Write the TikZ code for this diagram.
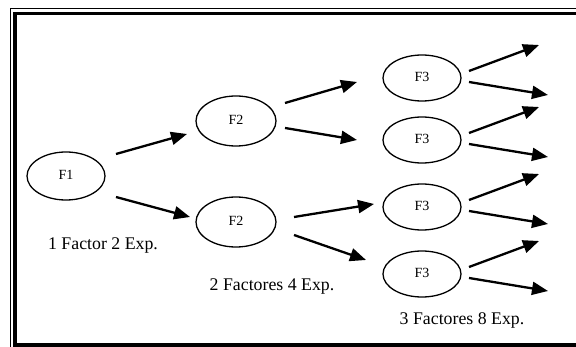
\documentclass[tikz,border=0pt]{standalone}
\usepackage{fontspec}
\setmainfont{Liberation Serif}
\usetikzlibrary{shapes.geometric,arrows.meta,calc}
\begin{document}
\begin{tikzpicture}[x=1pt,y=-1pt,
  fnode/.style={draw,ellipse,line width=1.3pt,minimum width=78pt,minimum height=48pt,inner sep=0pt,font=\fontsize{14}{16}\selectfont},
  arr/.style={line width=2.3pt,-{Triangle[length=16pt,width=13pt]}},
  lab/.style={font=\fontsize{17.8}{19}\selectfont,inner sep=0pt}]
\useasboundingbox (0,0) rectangle (576,347);
\clip (0,0) rectangle (576,347);
\fill[white] (0,0) rectangle (576,347);
% frame
\draw[line width=1.2pt] (10.5,8.5) rectangle (600,370);
\draw[line width=3.8pt] (15,13.5) rectangle (590,345);
% nodes
\newcommand{\ftxt}[1]{\raisebox{2pt}{#1}\hspace{16pt}}
\node[fnode] (f1)  at (66,176) {\ftxt{F1}};
\node[fnode,minimum width=80pt,minimum height=50pt] (f2a) at (236,121) {\ftxt{F2}};
\node[fnode,minimum width=80pt,minimum height=50pt] (f2b) at (236,222) {\ftxt{F2}};
\node[fnode,minimum height=46pt] (f3a) at (422,78) {\ftxt{F3}};
\node[fnode,minimum height=46pt] (f3b) at (422,140) {\ftxt{F3}};
\node[fnode,minimum height=46pt] (f3c) at (422,207) {\ftxt{F3}};
\node[fnode,minimum height=46pt] (f3d) at (422,274) {\ftxt{F3}};
% labels
\node[lab] (l1) at (103,246) {1 Factor 2 Exp.};
\node[lab] (l2) at (272,287) {2 Factores 4 Exp.};
\node[lab] (l3) at (462,320) {3 Factores 8 Exp.};
% connectors between nodes
\draw[arr] ($(f1)+(50,-22)$) -- ($(f2a)+(-49,13)$);
\draw[arr] ($(f1)+(50,21)$) -- ($(f2b)+(-46,-5)$);
\draw[arr] ($(f2a)+(49,-18)$) -- ($(f3a)+(-65,4)$);
\draw[arr] ($(f2a)+(49,7)$) -- ($(f3b)+(-65,0)$);
\draw[arr] ($(f2b)+(58,-5)$) -- ($(f3c)+(-48,-3)$);
\draw[arr] ($(f2b)+(58,13)$) -- ($(f3d)+(-56,-14)$);
% leaf arrows
\foreach \n in {f3a,f3b,f3c,f3d}{
  \coordinate (\n-up) at ($(\n)+(117,-33)$);
  \coordinate (\n-dn) at ($(\n)+(126,17)$);
  \draw[arr] ($(\n)+(47,-7)$) -- (\n-up);
  \draw[arr] ($(\n)+(47,4)$) -- (\n-dn);
}
\end{tikzpicture}
\end{document}
